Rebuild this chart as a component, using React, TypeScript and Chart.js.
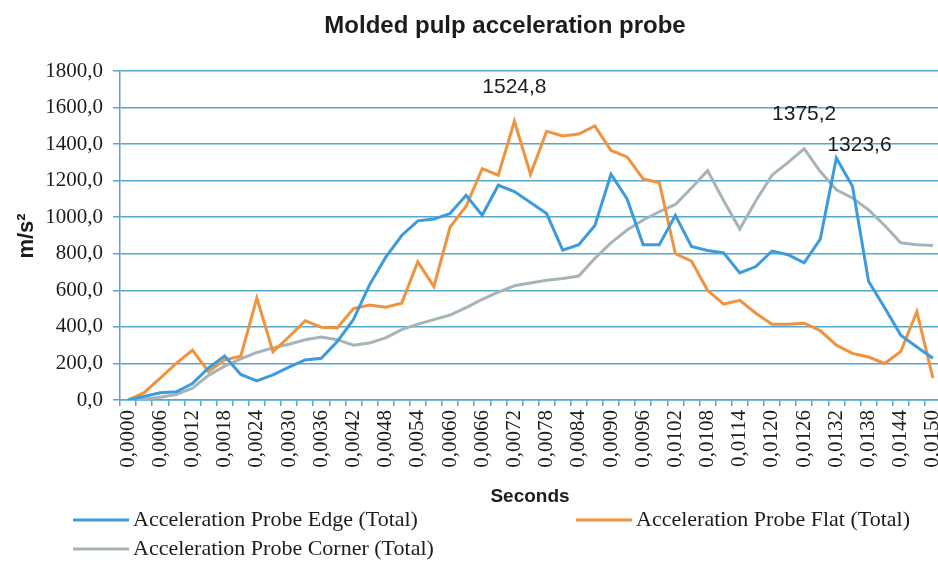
import React, { useEffect, useRef } from 'react';
import { Chart, registerables } from 'chart.js';

Chart.register(...registerables);

const chartTitle = 'Molded pulp acceleration probe';
const xAxisTitle = 'Seconds';
const yAxisTitle = 'm/s²';

const seconds = [
  '0,0000', '0,0003', '0,0006', '0,0009', '0,0012', '0,0015', '0,0018', '0,0021', '0,0024', '0,0027',
  '0,0030', '0,0033', '0,0036', '0,0039', '0,0042', '0,0045', '0,0048', '0,0051', '0,0054', '0,0057',
  '0,0060', '0,0063', '0,0066', '0,0069', '0,0072', '0,0075', '0,0078', '0,0081', '0,0084', '0,0087',
  '0,0090', '0,0093', '0,0096', '0,0099', '0,0102', '0,0105', '0,0108', '0,0111', '0,0114', '0,0117',
  '0,0120', '0,0123', '0,0126', '0,0129', '0,0132', '0,0135', '0,0138', '0,0141', '0,0144', '0,0147',
  '0,0150',
];

const edgeValues = [
  0, 20, 40, 45, 90, 175, 240, 140, 105, 137,
  180, 219, 228, 320, 440, 630, 780, 900, 980, 990,
  1020, 1120, 1011, 1175, 1140, 1080, 1020, 820, 850, 955,
  1235, 1100, 850, 850, 1010, 840, 818, 805, 695, 730,
  815, 795, 750, 880, 1323.6, 1170, 650, 505, 355, 290,
  228,
];

const flatValues = [
  0, 40, 120, 200, 273, 155, 220, 240, 557, 264,
  346, 434, 398, 394, 500, 520, 508, 530, 756, 620,
  945, 1060, 1266, 1230, 1524.8, 1235, 1470, 1445, 1455, 1500,
  1365, 1330, 1210, 1190, 800, 760, 600, 525, 545, 475,
  415, 415, 420, 380, 300, 255, 235, 200, 265, 483,
  120,
];

const cornerValues = [
  0, 5, 15, 30, 65, 135, 185, 225, 260, 285,
  305, 330, 345, 330, 300, 312, 340, 385, 415, 440,
  465, 505, 550, 590, 625, 640, 655, 665, 678, 775,
  860, 930, 985, 1030, 1070, 1160, 1255, 1090, 935, 1090,
  1230, 1300, 1375.2, 1250, 1150, 1105, 1040, 955, 860, 850,
  845,
];

const seriesNames = [
  'Acceleration Probe Edge (Total)',
  'Acceleration Probe Flat (Total)',
  'Acceleration Probe Corner (Total)',
];
const seriesValues = [edgeValues, flatValues, cornerValues];
const seriesColors = ['#3c9bdc', '#f0923e', '#a6b4ba'];

// peaks that carry a data label: [series index, point index]
const peakSeries = [1, 2, 0];
const peakPoints = [24, 42, 44];

const fmt = (v: number) => v.toFixed(1).replace('.', ',');

const SERIF = '"Liberation Serif", "Times New Roman", serif';
const SANS = '"Liberation Sans", Arial, sans-serif';
const GRID = '#55a6d1';
const TEXT = '#1c1c1c';

const overlayPlugin = {
  id: 'overlay',
  afterDraw(chart: any) {
    const { ctx } = chart;
    ctx.save();
    ctx.fillStyle = TEXT;
    ctx.textBaseline = 'middle';
    ctx.textAlign = 'center';
    ctx.font = `bold 24px ${SANS}`;
    ctx.fillText(chartTitle, 505, 26);
    ctx.font = `bold 19px ${SANS}`;
    ctx.fillText(xAxisTitle, 530, 497);

    ctx.save();
    ctx.translate(27, 236);
    ctx.rotate(-Math.PI / 2);
    ctx.font = `bold 22px ${SANS}`;
    ctx.fillText(yAxisTitle, 0, 0);
    ctx.restore();

    // legend (two columns, Excel-like)
    const slots = [
      { x: 73, y: 520 },
      { x: 576, y: 520 },
      { x: 73, y: 549 },
    ];
    ctx.font = `22px ${SERIF}`;
    ctx.textAlign = 'left';
    seriesNames.forEach((name, i) => {
      const s = slots[i];
      ctx.strokeStyle = seriesColors[i];
      ctx.lineWidth = 3;
      ctx.beginPath();
      ctx.moveTo(s.x, s.y);
      ctx.lineTo(s.x + 56, s.y);
      ctx.stroke();
      ctx.fillStyle = TEXT;
      ctx.fillText(name, s.x + 60, s.y);
    });

    // peak data labels
    ctx.font = `21px ${SANS}`;
    ctx.fillStyle = TEXT;
    peakSeries.forEach((ds, k) => {
      const idx = peakPoints[k];
      const pt = chart.getDatasetMeta(ds).data[idx];
      if (!pt) return;
      const text = fmt(seriesValues[ds][idx]);
      if (ds === 0) {
        ctx.textAlign = 'left';
        ctx.fillText(text, pt.x - 9, pt.y - 13);
      } else {
        ctx.textAlign = 'center';
        ctx.fillText(text, pt.x, pt.y - 34);
      }
    });
    ctx.restore();
  },
};

export default function App() {
  const canvasRef = useRef<HTMLCanvasElement | null>(null);

  useEffect(() => {
    const canvas = canvasRef.current;
    if (!canvas) return;
    const chart = new Chart(canvas, {
      type: 'line',
      data: {
        labels: seconds,
        datasets: seriesNames.map((name, i) => ({
          label: name,
          data: seriesValues[i],
          borderColor: seriesColors[i],
          backgroundColor: seriesColors[i],
          borderWidth: 3,
          pointRadius: 0,
          tension: 0,
          fill: false,
        })),
      },
      options: {
        responsive: false,
        animation: false,
        layout: { padding: { top: 71, right: 9, bottom: 78, left: 0 } },
        plugins: {
          legend: { display: false },
          title: { display: false },
          tooltip: { enabled: false },
        },
        scales: {
          x: {
            type: 'category',
            offset: true,
            grid: {
              offset: true,
              drawOnChartArea: false,
              drawTicks: true,
              tickLength: 6,
              color: GRID,
              lineWidth: 1.5,
            },
            border: { display: true, color: GRID, width: 1.5 },
            ticks: {
              autoSkip: false,
              maxRotation: 90,
              minRotation: 90,
              padding: 4,
              color: TEXT,
              font: { family: SERIF, size: 21 },
              callback: (_v: any, i: number) => (i % 2 === 0 ? seconds[i] : ''),
            },
            afterFit: (s: any) => {
              s.height = 85;
              s.paddingLeft = 0;
              s.paddingRight = 0;
            },
          },
          y: {
            min: 0,
            max: 1800,
            grid: {
              color: GRID,
              lineWidth: 1.5,
              drawTicks: true,
              tickLength: 7,
            },
            border: { display: true, color: GRID, width: 1.5 },
            ticks: {
              stepSize: 200,
              padding: 10,
              color: TEXT,
              font: { family: SERIF, size: 21 },
              callback: (v: any) => fmt(Number(v)),
            },
            afterFit: (s: any) => {
              s.width = 120;
            },
          },
        },
      },
      plugins: [overlayPlugin],
    });
    return () => chart.destroy();
  }, []);

  return (
    <div
      style={{
        position: 'fixed',
        left: 0,
        top: 0,
        width: 938,
        height: 563,
        overflow: 'hidden',
        background: '#ffffff',
      }}
    >
      <canvas ref={canvasRef} width={950} height={563} style={{ display: 'block' }} />
    </div>
  );
}
